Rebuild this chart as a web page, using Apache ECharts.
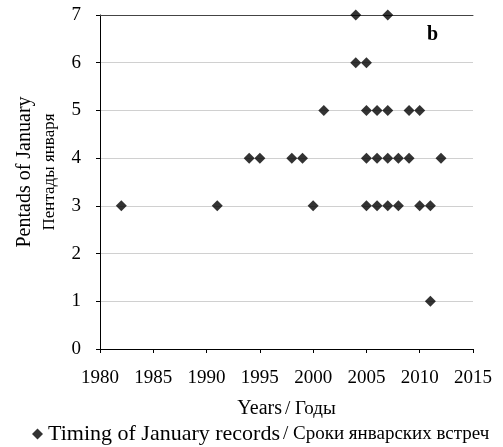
<!DOCTYPE html>
<html><head><meta charset="utf-8">
<script src="https://cdn.jsdelivr.net/npm/echarts@6/dist/echarts.min.js"></script>
<style>html,body{margin:0;padding:0;background:#fff}#c{width:503px;height:447px}</style>
</head><body><div id="c"></div>
<script>
var years = [1982,1991,1994,1995,1998,1999,2000,2001,2004,2004,2005,2005,2005,2005,2006,2006,2006,2007,2007,2007,2007,2008,2008,2009,2009,2010,2010,2011,2011,2012];
var pentads = [3,3,4,4,4,4,3,5,7,6,6,5,4,3,5,4,3,7,5,4,3,4,3,5,4,5,3,3,1,4];
var xTicks = [1980,1985,1990,1995,2000,2005,2010,2015];
var yTicks = [0,1,2,3,4,5,6,7];
var seriesName = 'Timing of January records / Сроки январских встреч';
var pts = years.map(function(y,i){return [y,pentads[i]];});
var chart = echarts.init(document.getElementById('c'));
var serif = 'Liberation Serif';
chart.setOption({
  animation:false,
  backgroundColor:'#fff',
  textStyle:{fontFamily:serif},
  grid:{left:100,right:30,top:15,bottom:98},
  xAxis:[{
    type:'value', min:xTicks[0], max:xTicks[xTicks.length-1], interval:5,
    axisLine:{lineStyle:{color:'#000',width:1}},
    axisTick:{show:true,length:4,lineStyle:{color:'#000'}},
    axisLabel:{color:'#000',fontSize:19,fontFamily:serif,margin:20,formatter:function(v){return String(v);}},
    splitLine:{show:false},
    name:'{a|Years} {b|/ Годы}', nameLocation:'middle', nameGap:50,
    nameTextStyle:{rich:{a:{fontSize:20,fontFamily:serif,color:'#000'},b:{fontSize:19,fontFamily:serif,color:'#000'}}}
  },{
    type:'value', position:'top', min:xTicks[0], max:xTicks[xTicks.length-1],
    axisLine:{show:true,lineStyle:{color:'#444',width:1}},
    axisTick:{show:false},axisLabel:{show:false},splitLine:{show:false}
  }],
  yAxis:{
    type:'value', min:yTicks[0], max:yTicks[yTicks.length-1], interval:1,
    axisLine:{show:true,lineStyle:{color:'#000',width:1}},
    axisTick:{show:true,length:4,lineStyle:{color:'#000'}},
    axisLabel:{color:'#000',fontSize:19,fontFamily:serif,margin:19},
    splitLine:{show:true,lineStyle:{color:'#d0d0d0',width:1}},
    name:'{a|Pentads of January}\n{b|Пентады января}', nameLocation:'middle', nameGap:38, nameRotate:90,
    nameTextStyle:{padding:[0,0,0,20],rich:{a:{fontSize:20,fontFamily:serif,color:'#000',lineHeight:25},b:{fontSize:17,fontFamily:serif,color:'#000',lineHeight:25}}}
  },
  legend:{
    bottom:-3, left:27, itemWidth:11, itemHeight:11, itemGap:4,
    data:[{name:seriesName,icon:'diamond'}],
    formatter:function(){return '{a|Timing of January records} {b|/ Сроки январских встреч}';},
    textStyle:{rich:{a:{fontSize:22,fontFamily:serif,color:'#000'},b:{fontSize:19,fontFamily:serif,color:'#000'}}}
  },
  graphic:[{type:'text',left:427,top:25,style:{text:'b',fontSize:20,fontWeight:'bold',fontFamily:serif,fill:'#000'}}],
  series:[{
    name:seriesName, type:'scatter', symbol:'diamond', symbolSize:[11,11],
    itemStyle:{color:'#000'}, data:pts, xAxisIndex:0
  }]
});
</script></body></html>
